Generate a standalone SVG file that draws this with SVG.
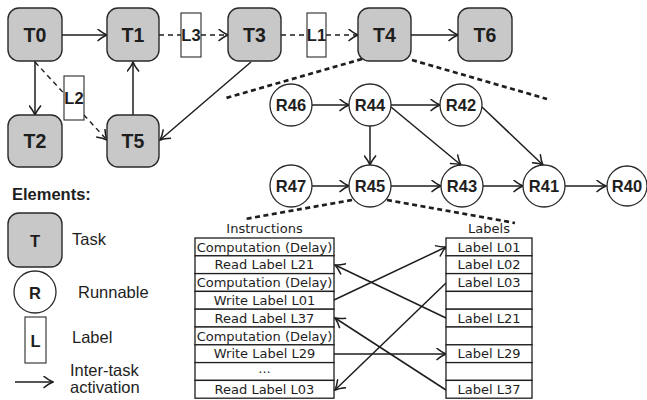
<svg xmlns="http://www.w3.org/2000/svg" width="647" height="400" viewBox="0 0 647 400">
<style>
.task{fill:#c8c8c8;stroke:#2a2a2a;stroke-width:1.4}
.run{fill:#fff;stroke:#2a2a2a;stroke-width:1.3}
.lab{fill:#fff;stroke:#2a2a2a;stroke-width:1.1}
.tt{font-family:"Liberation Sans",Arial,sans-serif;font-weight:bold;font-size:19.5px;fill:#1e1e1e;text-anchor:middle}
.rt{font-family:"Liberation Sans",Arial,sans-serif;font-weight:bold;font-size:16.5px;fill:#1e1e1e;text-anchor:middle}
.lt{font-family:"Liberation Sans",Arial,sans-serif;font-weight:bold;font-size:16.5px;fill:#1e1e1e;text-anchor:middle}
.leg{font-family:"Liberation Sans",Arial,sans-serif;font-size:16.5px;fill:#1e1e1e}
.tab{font-family:"DejaVu Sans",Verdana,sans-serif;font-size:13px;fill:#1e1e1e;text-anchor:middle}
.cell{fill:#fff;stroke:#1e1e1e;stroke-width:1.3}
.c{fill:none;stroke:#1e1e1e;stroke-width:1.5}
.d{fill:none;stroke:#1e1e1e;stroke-width:1.4;stroke-dasharray:5 4}
.z{fill:none;stroke:#1e1e1e;stroke-width:2.7;stroke-dasharray:5 3.5}
</style>
<defs>
<marker id="ah" markerWidth="11" markerHeight="13" refX="10" refY="6.5" orient="auto" markerUnits="userSpaceOnUse" viewBox="0 0 11 13">
<path d="M0.5,0.5 Q6,5 10,6.5 Q6,8 0.5,12.5" fill="none" stroke="#1e1e1e" stroke-width="1.5"/>
</marker>
</defs>

<g id="connectors">
<line class="c" x1="62" y1="35" x2="107" y2="35" marker-end="url(#ah)"/>
<line class="d" x1="159" y1="35" x2="181" y2="35"/>
<line class="d" x1="201" y1="35" x2="228" y2="35" marker-end="url(#ah)"/>
<line class="d" x1="281" y1="35" x2="307" y2="35"/>
<line class="d" x1="326" y1="35" x2="358" y2="35" marker-end="url(#ah)"/>
<line class="c" x1="411" y1="35" x2="458" y2="35" marker-end="url(#ah)"/>
<line class="c" x1="35" y1="61" x2="35" y2="115" marker-end="url(#ah)"/>
<line class="d" x1="35" y1="62" x2="107" y2="140" marker-end="url(#ah)"/>
<line class="c" x1="133" y1="115" x2="133" y2="62" marker-end="url(#ah)"/>
<line class="c" x1="251" y1="62" x2="160" y2="140" marker-end="url(#ah)"/>
<line class="z" x1="362" y1="59" x2="226" y2="98"/>
<line class="z" x1="412" y1="60" x2="547" y2="99"/>
<line class="c" x1="312" y1="105" x2="349" y2="105" marker-end="url(#ah)"/>
<line class="c" x1="391" y1="105" x2="440" y2="105" marker-end="url(#ah)"/>
<line class="c" x1="370" y1="126" x2="370" y2="165" marker-end="url(#ah)"/>
<line class="c" x1="391" y1="107" x2="461" y2="165" marker-end="url(#ah)"/>
<line class="c" x1="482" y1="107" x2="543" y2="165" marker-end="url(#ah)"/>
<line class="c" x1="312" y1="186" x2="349" y2="186" marker-end="url(#ah)"/>
<line class="c" x1="391" y1="186" x2="441" y2="186" marker-end="url(#ah)"/>
<line class="c" x1="483" y1="186" x2="523" y2="186" marker-end="url(#ah)"/>
<line class="c" x1="565" y1="186" x2="606" y2="186" marker-end="url(#ah)"/>
<line class="z" x1="352" y1="200" x2="245" y2="219"/>
<line class="z" x1="387" y1="200" x2="515" y2="223"/>
<line class="c" x1="334" y1="300" x2="446" y2="247" marker-end="url(#ah)"/>
<line class="c" x1="446" y1="318" x2="335" y2="265" marker-end="url(#ah)"/>
<line class="c" x1="446" y1="283" x2="335" y2="390" marker-end="url(#ah)"/>
<line class="c" x1="446" y1="390" x2="335" y2="318" marker-end="url(#ah)"/>
<line class="c" x1="334" y1="354" x2="446" y2="354" marker-end="url(#ah)"/>
<line class="c" x1="15" y1="382" x2="53" y2="382" marker-end="url(#ah)"/>
</g>

<g id="T0"><rect class="task" x="8" y="8" width="54" height="53" rx="11"/><text class="tt" x="35" y="41.5">T0</text></g>
<g id="T1"><rect class="task" x="107" y="8" width="52" height="53" rx="11"/><text class="tt" x="133" y="41.5">T1</text></g>
<g id="T3"><rect class="task" x="228" y="8" width="53" height="53" rx="11"/><text class="tt" x="254.5" y="41.5">T3</text></g>
<g id="T4"><rect class="task" x="358" y="8" width="53" height="53" rx="11"/><text class="tt" x="384.5" y="41.5">T4</text></g>
<g id="T6"><rect class="task" x="458" y="8" width="54" height="53" rx="11"/><text class="tt" x="485" y="41.5">T6</text></g>
<g id="T2"><rect class="task" x="8" y="115" width="54" height="52" rx="11"/><text class="tt" x="35" y="147.5">T2</text></g>
<g id="T5"><rect class="task" x="107" y="115" width="52" height="52" rx="11"/><text class="tt" x="133" y="147.5">T5</text></g>

<g id="L3"><rect class="lab" x="181" y="13" width="20" height="44"/><text class="lt" x="191" y="41">L3</text></g>
<g id="L1"><rect class="lab" x="307" y="13" width="19" height="44"/><text class="lt" x="316.5" y="41">L1</text></g>
<g id="L2"><rect class="lab" x="64" y="76" width="20" height="44"/><text class="lt" x="74" y="104">L2</text></g>

<g id="R46"><circle class="run" cx="291" cy="105" r="21"/><text class="rt" x="291" y="111">R46</text></g>
<g id="R44"><circle class="run" cx="370" cy="105" r="21"/><text class="rt" x="370" y="111">R44</text></g>
<g id="R42"><circle class="run" cx="461" cy="105" r="21"/><text class="rt" x="461" y="111">R42</text></g>
<g id="R47"><circle class="run" cx="291" cy="186" r="21"/><text class="rt" x="291" y="192">R47</text></g>
<g id="R45"><circle class="run" cx="370" cy="186" r="21"/><text class="rt" x="370" y="192">R45</text></g>
<g id="R43"><circle class="run" cx="462" cy="186" r="21"/><text class="rt" x="462" y="192">R43</text></g>
<g id="R41"><circle class="run" cx="544" cy="186" r="21"/><text class="rt" x="544" y="192">R41</text></g>
<g id="R40"><circle class="run" cx="627" cy="186" r="20"/><text class="rt" x="627" y="192">R40</text></g>

<g id="instructions">
<text class="tab" x="264.5" y="233">Instructions</text>
<rect class="cell" x="195" y="238" width="139" height="17.8"/>
<rect class="cell" x="195" y="255.8" width="139" height="17.8"/>
<rect class="cell" x="195" y="273.6" width="139" height="17.8"/>
<rect class="cell" x="195" y="291.4" width="139" height="17.8"/>
<rect class="cell" x="195" y="309.2" width="139" height="17.8"/>
<rect class="cell" x="195" y="327" width="139" height="17.8"/>
<rect class="cell" x="195" y="344.8" width="139" height="17.8"/>
<rect class="cell" x="195" y="362.6" width="139" height="17.8"/>
<rect class="cell" x="195" y="380.4" width="139" height="17.8"/>
<text class="tab" x="264.5" y="251.6">Computation (Delay)</text>
<text class="tab" x="264.5" y="269.4">Read Label L21</text>
<text class="tab" x="264.5" y="287.2">Computation (Delay)</text>
<text class="tab" x="264.5" y="305">Write Label L01</text>
<text class="tab" x="264.5" y="322.8">Read Label L37</text>
<text class="tab" x="264.5" y="340.6">Computation (Delay)</text>
<text class="tab" x="264.5" y="358.4">Write Label L29</text>
<text class="tab" x="264.5" y="373">...</text>
<text class="tab" x="264.5" y="394">Read Label L03</text>
</g>

<g id="labels">
<text class="tab" x="489" y="233">Labels</text>
<rect class="cell" x="446" y="238" width="86" height="17.8"/>
<rect class="cell" x="446" y="255.8" width="86" height="17.8"/>
<rect class="cell" x="446" y="273.6" width="86" height="17.8"/>
<rect class="cell" x="446" y="291.4" width="86" height="17.8"/>
<rect class="cell" x="446" y="309.2" width="86" height="17.8"/>
<rect class="cell" x="446" y="327" width="86" height="17.8"/>
<rect class="cell" x="446" y="344.8" width="86" height="17.8"/>
<rect class="cell" x="446" y="362.6" width="86" height="17.8"/>
<rect class="cell" x="446" y="380.4" width="86" height="17.8"/>
<text class="tab" x="489" y="251.6">Label L01</text>
<text class="tab" x="489" y="269.4">Label L02</text>
<text class="tab" x="489" y="287.2">Label L03</text>
<text class="tab" x="489" y="322.8">Label L21</text>
<text class="tab" x="489" y="358.4">Label L29</text>
<text class="tab" x="489" y="394">Label L37</text>
</g>

<g id="legend">
<text class="leg" x="12" y="200" font-weight="bold">Elements:</text>
<rect class="task" x="8" y="213" width="54" height="54" rx="11"/>
<text class="lt" x="35" y="246.5" font-size="17.5">T</text>
<text class="leg" x="72" y="245">Task</text>
<circle class="run" cx="35" cy="292" r="21"/>
<text class="lt" x="35" y="298.5" font-size="17.5">R</text>
<text class="leg" x="78" y="298">Runnable</text>
<rect class="lab" x="25" y="317" width="21" height="46"/>
<text class="lt" x="35.5" y="346.5" font-size="17.5">L</text>
<text class="leg" x="72" y="343">Label</text>
<text class="leg" x="70" y="376">Inter-task</text>
<text class="leg" x="70" y="393">activation</text>
</g>
</svg>
